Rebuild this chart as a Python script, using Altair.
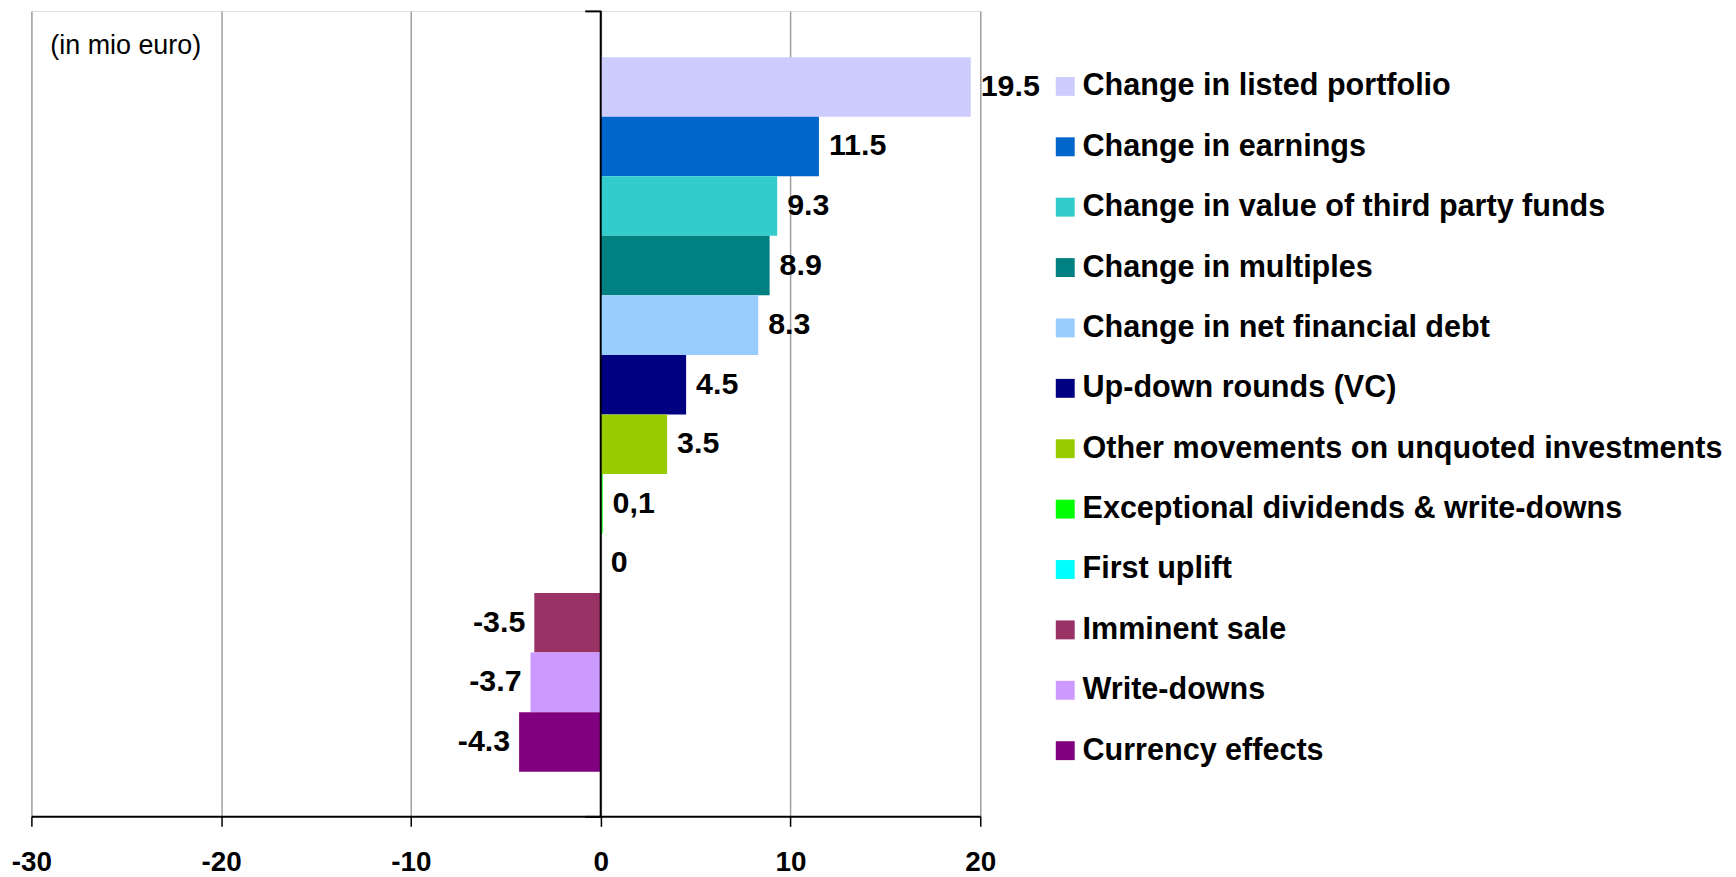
import altair as alt
import pandas as pd

categories = [
    "Change in listed portfolio",
    "Change in earnings",
    "Change in value of third party funds",
    "Change in multiples",
    "Change in net financial debt",
    "Up-down rounds (VC)",
    "Other movements on unquoted investments",
    "Exceptional dividends & write-downs",
    "First uplift",
    "Imminent sale",
    "Write-downs",
    "Currency effects",
]
values = [19.5, 11.5, 9.3, 8.9, 8.3, 4.5, 3.5, 0.1, 0, -3.5, -3.7, -4.3]
labels = ["19.5", "11.5", "9.3", "8.9", "8.3", "4.5", "3.5", "0,1", "0", "-3.5", "-3.7", "-4.3"]
colors = [
    "#CCCCFF", "#0066CC", "#33CCCC", "#008080", "#99CCFF", "#000080",
    "#99CC00", "#00FF00", "#00FFFF", "#993366", "#CC99FF", "#800080",
]
x_ticks = [-30, -20, -10, 0, 10, 20]
x_domain = [-30, 20]
unit_note = ["(in mio euro)"]

FONT = "Liberation Sans"
W, H = 953, 809

df = pd.DataFrame({"category": categories, "value": values, "label": labels})

y_enc = alt.Y(
    "category:N",
    sort=categories,
    scale=alt.Scale(domain=categories, paddingInner=0, paddingOuter=0.764, align=0.509),
    axis=None,
)
x_enc = alt.X(
    "value:Q",
    scale=alt.Scale(domain=x_domain, nice=False, zero=False),
    axis=alt.Axis(
        values=x_ticks,
        title=None,
        grid=True,
        gridColor="#A0A0A0",
        gridWidth=1.5,
        domainColor="black",
        domainWidth=2,
        tickColor="black",
        tickWidth=1.5,
        tickSize=10,
        labelFontSize=28,
        labelFontWeight="bold",
        labelColor="black",
        labelFont=FONT,
        labelPadding=22,
        labelFlush=False,
        labelExpr="'' + datum.value",
    ),
)

base = alt.Chart(df)

bars = base.mark_bar().encode(
    y=y_enc,
    x=x_enc,
    color=alt.Color(
        "category:N",
        sort=categories,
        scale=alt.Scale(domain=categories, range=colors),
        legend=alt.Legend(
            orient="none",
            legendX=1023,
            legendY=60.5,
            title=None,
            symbolType="square",
            symbolSize=361,
            symbolStrokeWidth=0,
            symbolOpacity=1,
            labelFontSize=30.7,
            labelFontWeight="bold",
            labelFont=FONT,
            labelColor="black",
            labelLimit=1000,
            labelOffset=2,
            rowPadding=28.65,
            padding=0,
            direction="vertical",
        ),
    ),
)

pos_text = base.transform_filter("datum.value >= 0").mark_text(
    align="left", baseline="middle", dx=10, fontSize=30.5, fontWeight="bold",
    font=FONT, color="black",
).encode(y=y_enc, x=alt.X("value:Q"), text="label:N")

neg_text = base.transform_filter("datum.value < 0").mark_text(
    align="right", baseline="middle", dx=-9, fontSize=30.5, fontWeight="bold",
    font=FONT, color="black",
).encode(y=y_enc, x=alt.X("value:Q"), text="label:N")

main = alt.layer(bars, pos_text, neg_text)

zero_df = pd.DataFrame({"y0": [0], "y1": [1]})
zero_line = alt.Chart(zero_df).mark_rule(color="black", strokeWidth=2).encode(
    x=alt.X(datum=0, type="quantitative"),
    y=alt.Y(
        "y0:Q",
        scale=alt.Scale(domain=[0, 1], nice=False),
        axis=alt.Axis(
            orient="left",
            offset=-(W * 30 / 50),
            values=[0, 1],
            labels=False,
            title=None,
            grid=False,
            domain=False,
            tickColor="black",
            tickWidth=2,
            tickSize=16,
        ),
    ),
    y2="y1:Q",
)

note = alt.Chart(pd.DataFrame({"t": unit_note})).mark_text(
    align="left", baseline="middle", fontSize=27, font=FONT, color="black"
).encode(text="t:N", x=alt.value(19), y=alt.value(35))

chart = (
    alt.layer(main, zero_line, note)
    .resolve_scale(y="independent")
    .properties(width=W, height=H, padding={"left": 2.5, "top": 0, "right": 5, "bottom": 0})
    .configure_view(stroke=None)
    .configure(font=FONT)
)

chart.save("out.html", embed_options={"renderer": "svg", "actions": False})
